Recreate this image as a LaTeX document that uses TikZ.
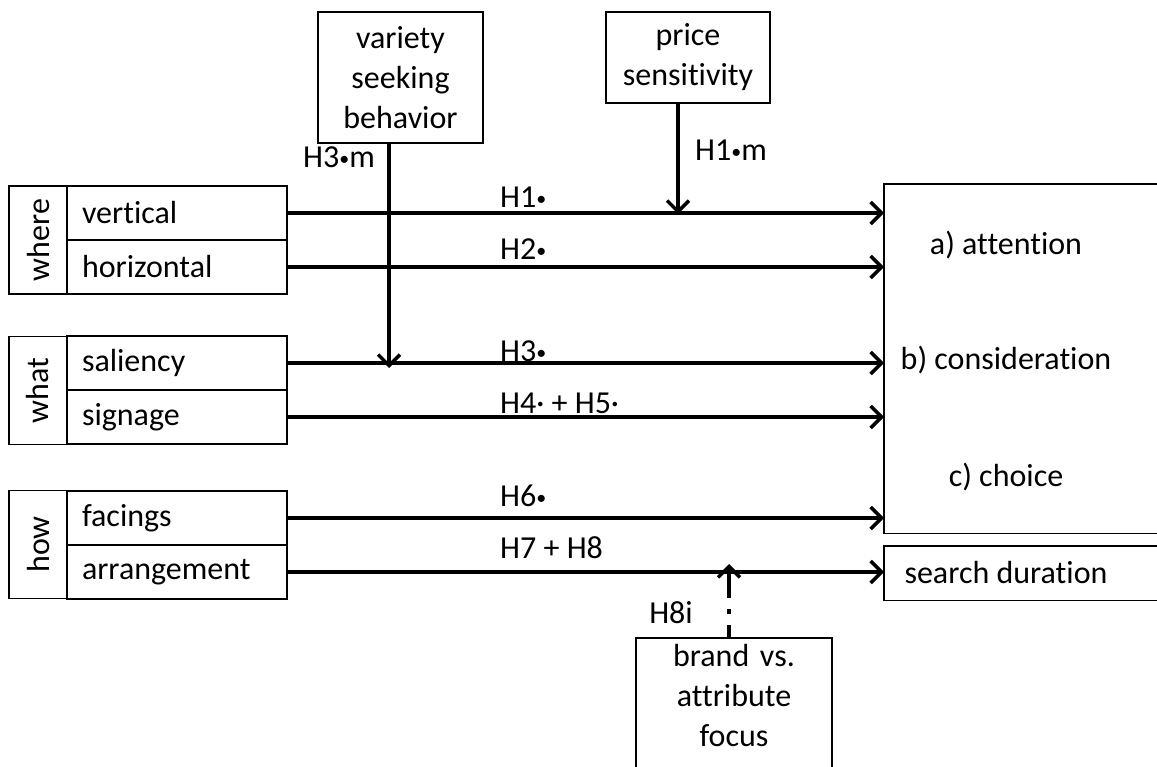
\documentclass[tikz,border=0pt]{standalone}
\usepackage{fontspec}
\setmainfont[Ligatures=NoCommon]{Carlito}
\usetikzlibrary{arrows.meta,positioning}

\newcommand{\hdot}{\raisebox{2pt}{\fontsize{20}{20}\selectfont •}}

\tikzset{
  box/.style={draw, line width=1.4pt, inner sep=0pt, outer sep=0pt},
  grp/.style={box, rotate=90, minimum width=108pt, minimum height=58pt},
  item/.style={box, anchor=north west, minimum width=220pt, minimum height=54pt,
    text width=190pt, inner xsep=15pt, align=left},
  modbox/.style={box, align=center},
  hyp/.style={anchor=base west, inner sep=0pt},
  link/.style={line width=3.4pt, -{Straight Barb[length=11pt,width=22pt]}},
}

\begin{document}
\begin{tikzpicture}[x=1pt,y=-1pt,font=\fontsize{32}{40}\selectfont]
\useasboundingbox[fill=white] (0,0) rectangle (1157,767);

% groups on the left
\node[grp] (where) at (38,240) {where};
\node[grp] (what) at (38,390.5) {what};
\node[grp] (how) at (38,544.5) {how};
\node[item] (vert) at (67,186) {vertical};
\node[item, below=0pt of vert] (horiz) {horizontal};
\node[item] (sal) at (67,336) {saliency};
\node[item, below=0pt of sal] (sign) {signage};
\node[item] (fac) at (67,491) {facings};
\node[item, below=0pt of fac] (arrg) {arrangement};

% outcomes (open to the right)
\node[anchor=north west, minimum width=274pt, minimum height=349pt, inner sep=0pt] (out) at (884,184) {};
\draw[line width=1.4pt] (out.north east) -- (out.north west) -- (out.south west) -- (out.south east);
\node (attn) at (1006,245) {a) attention};
\node (cons) at (1006,360) {b) consideration};
\node (choice) at (1006,477) {c) choice};
\node[anchor=north west, minimum width=274pt, minimum height=54pt, inner sep=0pt] (srch) at (884,546) {};
\draw[line width=1.4pt] (srch.north east) -- (srch.north west) -- (srch.south west) -- (srch.south east);
\node (srchtxt) at (1006,573) {search duration};

% moderators
\node[modbox, minimum width=165pt, minimum height=131pt] (var) at (400.5,77.5) {variety\\seeking\\behavior};
\node[modbox, minimum width=164pt, minimum height=91pt] (price) at (688,57.5) {price\\sensitivity};
\node[modbox, draw=none, anchor=north, text width=196pt, inner ysep=6pt] (focus) at (734,638) {brand vs.\\attribute\\focus};
\draw[line width=1.4pt] ([yshift=-30pt]focus.south west) |- (focus.north east) -- ([yshift=-30pt]focus.south east);

% main effects
\draw[link] (vert.east) -- (vert.east -| out.west);
\draw[link] (horiz.east) -- (horiz.east -| out.west);
\draw[link] (sal.east) -- (sal.east -| out.west);
\draw[link] (sign.east) -- (sign.east -| out.west);
\draw[link] (fac.east) -- (fac.east -| out.west);
\draw[link] (arrg.east) -- (arrg.east -| srch.west);

\node[hyp] (h1) at (500,208) {H1\hdot};
\node[hyp] (h2) at (500,260) {H2\hdot};
\node[hyp] (h3) at (500,362) {H3\hdot};
\node[hyp] (h45) at (500,413) {H4· + H5·};
\node[hyp] (h6) at (500,506) {H6\hdot};
\node[hyp] (h78) at (500,558) {H7 + H8};

% moderating effects
\coordinate (h3m) at (389,368);
\coordinate (h1m) at (678,214);
\coordinate (h8i) at (729,564);
\draw[link] (var.south -| h3m) -- (h3m);
\draw[link] (price.south -| h1m) -- (h1m);
\draw[link, dash pattern=on 13pt off 11pt on 5pt off 11pt on 60pt] (focus.north -| h8i) -- (h8i);
\node (l3m) at (339,157) {H3\hdot m};
\node (l1m) at (731,150) {H1\hdot m};
\node (l8i) at (671,613) {H8i};
\end{tikzpicture}
\end{document}
